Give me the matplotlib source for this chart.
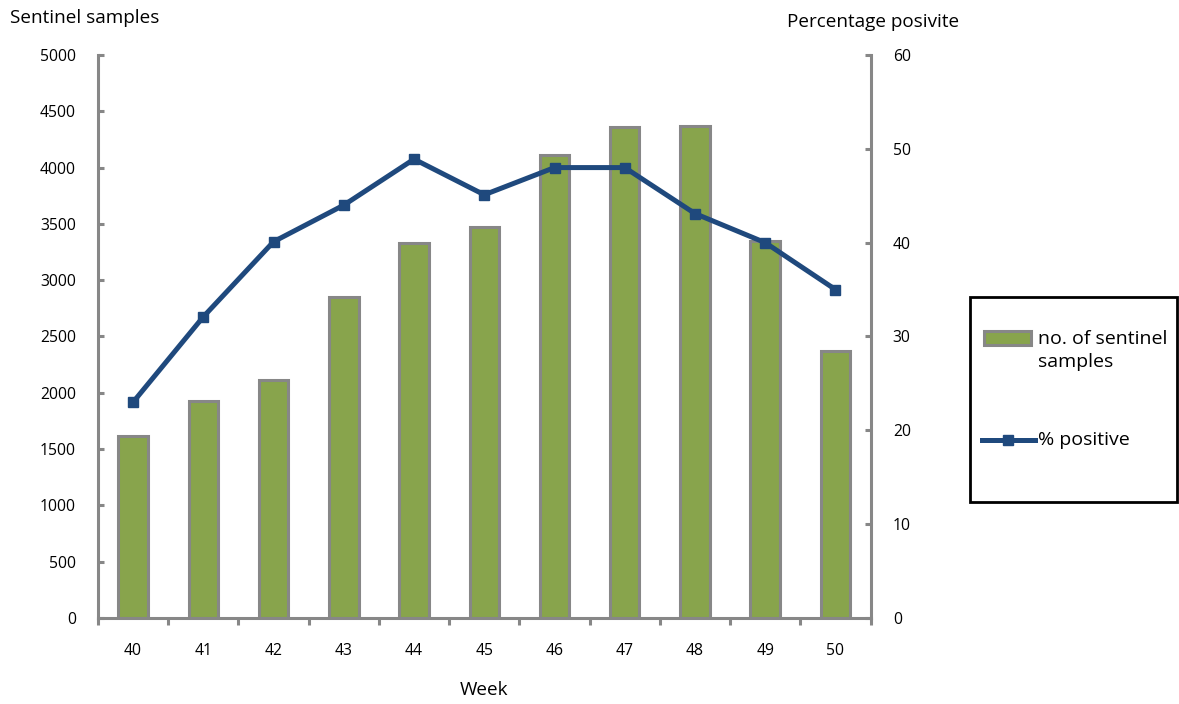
import matplotlib
matplotlib.use("Agg")
import matplotlib.pyplot as plt
from matplotlib.patches import Rectangle
from matplotlib.lines import Line2D

weeks = ["40", "41", "42", "43", "44", "45", "46", "47", "48", "49", "50"]
samples = [1615, 1927, 2110, 2851, 3330, 3472, 4112, 4360, 4370, 3348, 2371]
pct_positive = [23.0, 32.1, 40.1, 44.0, 48.9, 45.1, 48.0, 48.0, 43.1, 40.0, 35.0]

plt.rcParams['font.family'] = ['Open Sans', 'DejaVu Sans']

GRAY = "#878787"
GREEN = "#88A44C"
BLUE = "#1F497D"

W, H = 1179, 704
fig = plt.figure(figsize=(W / 100, H / 100), dpi=100)
ax = fig.add_axes([0.0831, 0.1222, 0.6553, 0.7997])
ax2 = ax.twinx()

x = list(range(len(weeks)))
ax.bar(x, samples, width=0.42, color=GREEN, edgecolor=GRAY, linewidth=2.2, zorder=2)
ax.set_xlim(-0.5, len(weeks) - 0.5)
ax.set_ylim(0, 5000)
ax.set_yticks(range(0, 5001, 500))
ax.set_xticks(x)
ax.set_xticklabels(weeks)
ax.set_xticks([i + 0.5 for i in range(-1, len(weeks))], minor=True)

ax2.plot(x, pct_positive, color=BLUE, linewidth=3.6, marker="s", markersize=6.5,
         markerfacecolor=BLUE, markeredgecolor=BLUE, zorder=3)
ax2.set_ylim(0, 60)
ax2.set_yticks(range(0, 61, 10))

for a in (ax, ax2):
    a.spines['top'].set_visible(False)
    for s in ('left', 'right', 'bottom'):
        a.spines[s].set_color(GRAY)
        a.spines[s].set_linewidth(2.2)
ax.spines['right'].set_visible(False)
ax2.spines['left'].set_visible(False)
ax2.spines['bottom'].set_visible(False)

ax.tick_params(axis='y', direction='in', length=4, width=2.2, color=GRAY,
               labelsize=11.3, pad=16, labelcolor="black")
ax.tick_params(axis='x', which='major', length=0, labelsize=11.3, pad=18)
ax.tick_params(axis='x', which='minor', direction='out', length=5, width=2.2, color=GRAY)
ax2.tick_params(axis='y', direction='in', length=4, width=2.2, color=GRAY,
                labelsize=11.3, pad=16, labelcolor="black")

def fx(px):
    return px / W

def fy(py):
    return 1 - py / H

fig.text(fx(10), fy(18), "Sentinel samples", fontsize=13.6, va='center', ha='left')
fig.text(fx(787), fy(22), "Percentage posivite", fontsize=13.6, va='center', ha='left')
fig.text(fx(484), fy(690), "Week", fontsize=13.6, va='center', ha='center')

# framed legend box at the right of the plot
fig.add_artist(Rectangle((fx(970), fy(502)), fx(1177) - fx(970), fy(297) - fy(502),
                         transform=fig.transFigure, facecolor="white",
                         edgecolor="black", linewidth=2))
fig.add_artist(Rectangle((fx(984), fy(345)), fx(1031) - fx(984), fy(331) - fy(345),
                         transform=fig.transFigure, facecolor=GREEN,
                         edgecolor=GRAY, linewidth=2.2))
fig.text(fx(1038), fy(339), "no. of sentinel", fontsize=14, va='center', ha='left')
fig.text(fx(1038), fy(362), "samples", fontsize=14, va='center', ha='left')
fig.add_artist(Line2D([fx(982), fx(1035)], [fy(440), fy(440)], transform=fig.transFigure,
                      color=BLUE, linewidth=3.6))
fig.add_artist(Line2D([fx(1008)], [fy(440)], transform=fig.transFigure, color=BLUE,
                      marker='s', markersize=6.5))
fig.text(fx(1038), fy(440), "% positive", fontsize=14, va='center', ha='left')

fig.savefig("out.png", dpi=100)
